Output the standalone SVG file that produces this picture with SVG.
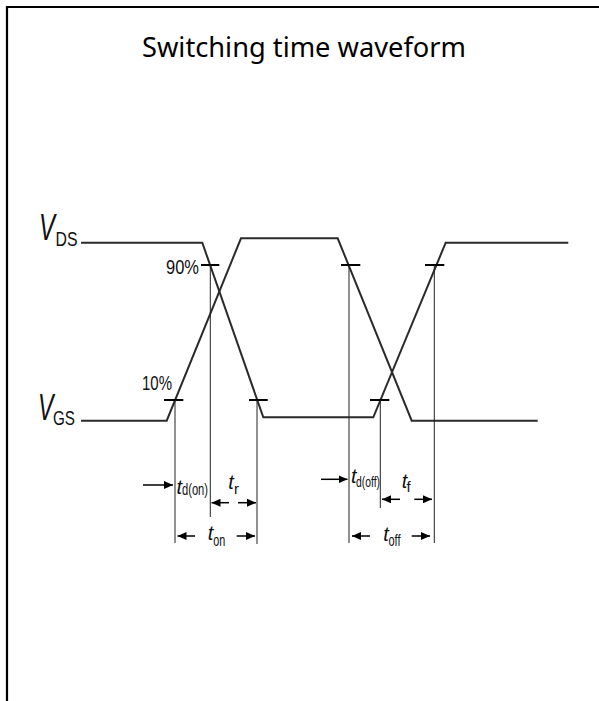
<svg xmlns="http://www.w3.org/2000/svg" width="599" height="701" viewBox="0 0 599 701">
<defs>
<style>
.frame{fill:none;stroke:#000;stroke-width:2.2}
.wave{fill:none;stroke:#2a2a2a;stroke-width:2;stroke-linejoin:miter}
.tick{stroke:#000;stroke-width:2}
.vl{stroke:#222;stroke-width:1}
.arr{stroke:#000;stroke-width:1.5;marker-end:url(#ah)}
.lbl{font-family:"Liberation Sans",Arial,sans-serif;fill:#111}
.it{font-style:italic}
.title{font-family:"Noto Sans","Open Sans",sans-serif;font-size:28px;fill:#000}
</style>
<marker id="ah" markerUnits="userSpaceOnUse" markerWidth="9" markerHeight="8" refX="9" refY="4" orient="auto">
<path d="M0,0 L9,4 L0,8 z" fill="#000"/>
</marker>
</defs>
<rect width="599" height="701" fill="#fff"/>
<path class="frame" d="M7,701 V7 H599"/>
<text class="title" x="142" y="57" textLength="324" lengthAdjust="spacingAndGlyphs">Switching time waveform</text>

<g id="waveforms">
<path id="vds" class="wave" d="M81,242.7 H202.3 L263.3,417.3 H373.3 L445.7,242.7 H568.3"/>
<path id="vgs" class="wave" d="M81,420.7 H166.7 L241,238.3 H337.7 L411.7,420.7 H537.7"/>
</g>

<g id="ticks">
<line class="tick" x1="201" y1="265" x2="219.3" y2="265"/>
<line class="tick" x1="164" y1="400" x2="183.3" y2="400"/>
<line class="tick" x1="249" y1="400" x2="267.7" y2="400"/>
<line class="tick" x1="341" y1="265" x2="360.3" y2="265"/>
<line class="tick" x1="425" y1="265" x2="444.3" y2="265"/>
<line class="tick" x1="370" y1="400" x2="389.3" y2="400"/>
</g>

<g id="connectors">
<line class="vl" x1="175" y1="400" x2="175" y2="543"/>
<line class="vl" x1="210.3" y1="265" x2="210.3" y2="517"/>
<line class="vl" x1="257" y1="400" x2="257" y2="544"/>
<line class="vl" x1="349" y1="265" x2="349" y2="543"/>
<line class="vl" x1="380.3" y1="400" x2="380.3" y2="508"/>
<line class="vl" x1="434.3" y1="265" x2="434.3" y2="543"/>
<line class="arr" x1="143" y1="485" x2="173" y2="485"/>
<line class="arr" x1="229" y1="502.7" x2="211.5" y2="502.7"/>
<line class="arr" x1="238" y1="502.7" x2="256" y2="502.7"/>
<line class="arr" x1="195" y1="536" x2="177.5" y2="536"/>
<line class="arr" x1="236.7" y1="536" x2="255" y2="536"/>
<line class="arr" x1="321" y1="479.3" x2="347.5" y2="479.3"/>
<line class="arr" x1="400" y1="499.3" x2="382" y2="499.3"/>
<line class="arr" x1="414.3" y1="499.3" x2="432" y2="499.3"/>
<line class="arr" x1="370" y1="536" x2="352" y2="536"/>
<line class="arr" x1="411.7" y1="536" x2="430" y2="536"/>
</g>

<g id="label-vds">
<text class="lbl"><tspan class="it" x="39" y="239.5" font-size="36" textLength="16" lengthAdjust="spacingAndGlyphs">V</tspan><tspan x="55.5" y="246" font-size="20" textLength="22" lengthAdjust="spacingAndGlyphs">DS</tspan></text>
</g>
<g id="label-vgs">
<text class="lbl"><tspan class="it" x="38" y="420" font-size="36" textLength="15.5" lengthAdjust="spacingAndGlyphs">V</tspan><tspan x="53" y="425" font-size="20" textLength="22" lengthAdjust="spacingAndGlyphs">GS</tspan></text>
</g>
<g id="label-90">
<text class="lbl" x="166" y="274" font-size="21" textLength="33" lengthAdjust="spacingAndGlyphs">90%</text>
</g>
<g id="label-10">
<text class="lbl" x="142" y="390" font-size="20" textLength="30" lengthAdjust="spacingAndGlyphs">10%</text>
</g>

<g id="label-tdon">
<text class="lbl it" x="176.5" y="494" font-size="20">t</text>
<text class="lbl" x="182" y="495" font-size="16" textLength="26" lengthAdjust="spacingAndGlyphs">d(on)</text>
</g>
<g id="label-tr">
<text class="lbl it" x="228.3" y="489" font-size="20">t</text>
<text class="lbl" x="234" y="494" font-size="15">r</text>
</g>
<g id="label-ton">
<text class="lbl it" x="207.7" y="540" font-size="20">t</text>
<text class="lbl" x="213.3" y="546" font-size="16" textLength="12" lengthAdjust="spacingAndGlyphs">on</text>
</g>
<g id="label-tdoff">
<text class="lbl it" x="351" y="483" font-size="20">t</text>
<text class="lbl" x="356" y="487" font-size="15" textLength="24" lengthAdjust="spacingAndGlyphs">d(off)</text>
</g>
<g id="label-tf">
<text class="lbl it" x="401.7" y="488" font-size="20">t</text>
<text class="lbl" x="406.5" y="492" font-size="15">f</text>
</g>
<g id="label-toff">
<text class="lbl it" x="383.3" y="541" font-size="20">t</text>
<text class="lbl" x="388.5" y="546" font-size="16" textLength="12" lengthAdjust="spacingAndGlyphs">off</text>
</g>
</svg>
